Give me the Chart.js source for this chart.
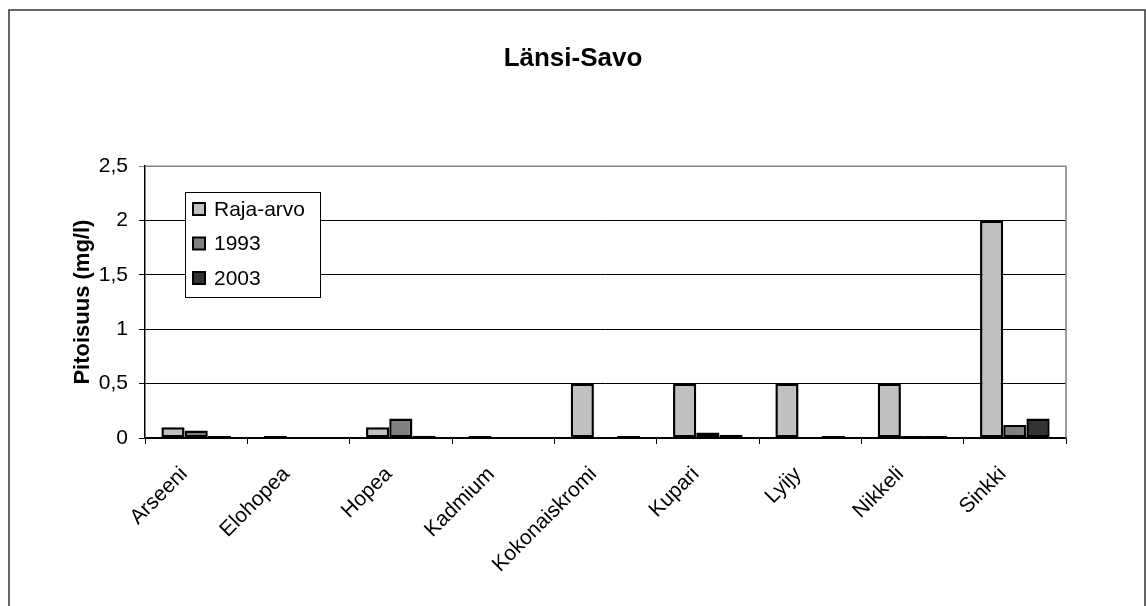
<!DOCTYPE html>
<html lang="fi">
<head>
<meta charset="UTF-8">
<title>Länsi-Savo</title>
<script src="https://cdn.jsdelivr.net/npm/chart.js"></script>
<style>
  html, body { margin: 0; padding: 0; background: #fff; }
  #wrap { width: 1146px; height: 606px; }
</style>
</head>
<body>
<div id="wrap"><canvas id="kaavio"></canvas></div>

<script>
// aineistot
var aineet = ['Arseeni', 'Elohopea', 'Hopea', 'Kadmium', 'Kokonaiskromi', 'Kupari', 'Lyijy', 'Nikkeli', 'Sinkki'];
var rajaArvo = [0.1, 0.005, 0.1, 0.005, 0.5, 0.5, 0.5, 0.5, 2.0];
var v1993 = [0.07, null, 0.18, null, null, 0.05, null, 0.01, 0.12];
var v2003 = [0.01, null, 0.02, null, 0.005, 0.03, 0.005, 0.005, 0.18];
var yTikit = ['0', '0,5', '1', '1,5', '2', '2,5'];

var fontti = "'Liberation Sans', Arial, sans-serif";

// selite kaavion sisälle, kehys ympärille
var omaSelite = {
    id: 'omaSelite',
    afterDraw: function (chart) {
        var ctx = chart.ctx;
        var ca = chart.chartArea;
        ctx.save();
        // kuvaajan harmaa yläreuna ja oikea reuna
        ctx.strokeStyle = '#808080';
        ctx.lineWidth = 1.5;
        ctx.beginPath();
        ctx.moveTo(ca.left, ca.top);
        ctx.lineTo(ca.right, ca.top);
        ctx.lineTo(ca.right, ca.bottom);
        ctx.stroke();

        // selite
        var x = 185, y = 192, w = 135, h = 105;
        ctx.fillStyle = '#fff';
        ctx.fillRect(x, y, w, h);
        ctx.strokeStyle = '#000';
        ctx.lineWidth = 1;
        ctx.strokeRect(x + 0.5, y + 0.5, w, h);
        ctx.font = '21px ' + fontti;
        ctx.textBaseline = 'middle';
        chart.data.datasets.forEach(function (ds, i) {
            var ry = y + 17 + i * 34.5;
            ctx.fillStyle = ds.backgroundColor;
            ctx.fillRect(x + 8, ry - 6, 12, 12);
            ctx.strokeStyle = '#000';
            ctx.lineWidth = 2;
            ctx.strokeRect(x + 8, ry - 6, 12, 12);
            ctx.fillStyle = '#000';
            ctx.fillText(ds.label, x + 29, ry + 1);
        });

        // ulkokehys
        ctx.strokeStyle = '#333';
        ctx.lineWidth = 1.5;
        ctx.strokeRect(9, 10, 1136, 700);
        ctx.restore();
    }
};

new Chart(document.getElementById('kaavio'), {
    type: 'bar',
    data: {
        labels: aineet,
        datasets: [
            { label: 'Raja-arvo', data: rajaArvo, backgroundColor: '#c0c0c0', borderColor: '#000000', borderWidth: 2.5, borderSkipped: false, minBarLength: 2 },
            { label: '1993', data: v1993, backgroundColor: '#808080', borderColor: '#000000', borderWidth: 2.5, borderSkipped: false, minBarLength: 2 },
            { label: '2003', data: v2003, backgroundColor: '#333333', borderColor: '#000000', borderWidth: 2.5, borderSkipped: false, minBarLength: 2 }
        ]
    },
    options: {
        responsive: true,
        maintainAspectRatio: false,
        animation: false,
        layout: { padding: { left: 0, right: 0, top: 10, bottom: 0 } },
        categoryPercentage: 0.68,
        barPercentage: 1.0,
        plugins: {
            legend: { display: false },
            tooltip: { enabled: false },
            title: {
                display: true,
                text: 'Länsi-Savo',
                color: '#000',
                font: { family: fontti, size: 26, weight: 'bold' },
                padding: { top: 33, bottom: 92 }
            }
        },
        scales: {
            x: {
                grid: { offset: true, drawOnChartArea: false, color: '#000', tickLength: 6 },
                border: { color: '#000', width: 1.5 },
                ticks: {
                    color: '#000',
                    font: { family: fontti, size: 21 },
                    minRotation: 45,
                    maxRotation: 45,
                    padding: 18,
                    labelOffset: -12
                },
                afterFit: function (s) { s.height = 168; }
            },
            y: {
                min: 0,
                max: 2.5,
                ticks: {
                    stepSize: 0.5,
                    color: '#000',
                    font: { family: fontti, size: 21 },
                    padding: 11,
                    callback: function (v, i) { return yTikit[i]; }
                },
                grid: {
                    color: function (c) { return c.tick && c.tick.value === 2.5 ? '#808080' : '#000'; },
                    lineWidth: 1,
                    tickLength: 6
                },
                border: { color: '#000', width: 1.5 },
                title: {
                    display: true,
                    text: 'Pitoisuus (mg/l)',
                    color: '#000',
                    font: { family: fontti, size: 22, weight: 'bold' },
                    padding: { top: 70, bottom: 0 }
                },
                afterFit: function (s) { s.width = 145; }
            },
            // tyhjä tila oikealle
            oikea: {
                type: 'linear',
                position: 'right',
                min: 0,
                max: 2.5,
                ticks: { display: false },
                grid: { display: false },
                border: { display: false },
                afterFit: function (s) { s.width = 80; }
            }
        }
    },
    plugins: [omaSelite]
});
</script>
</body>
</html>
